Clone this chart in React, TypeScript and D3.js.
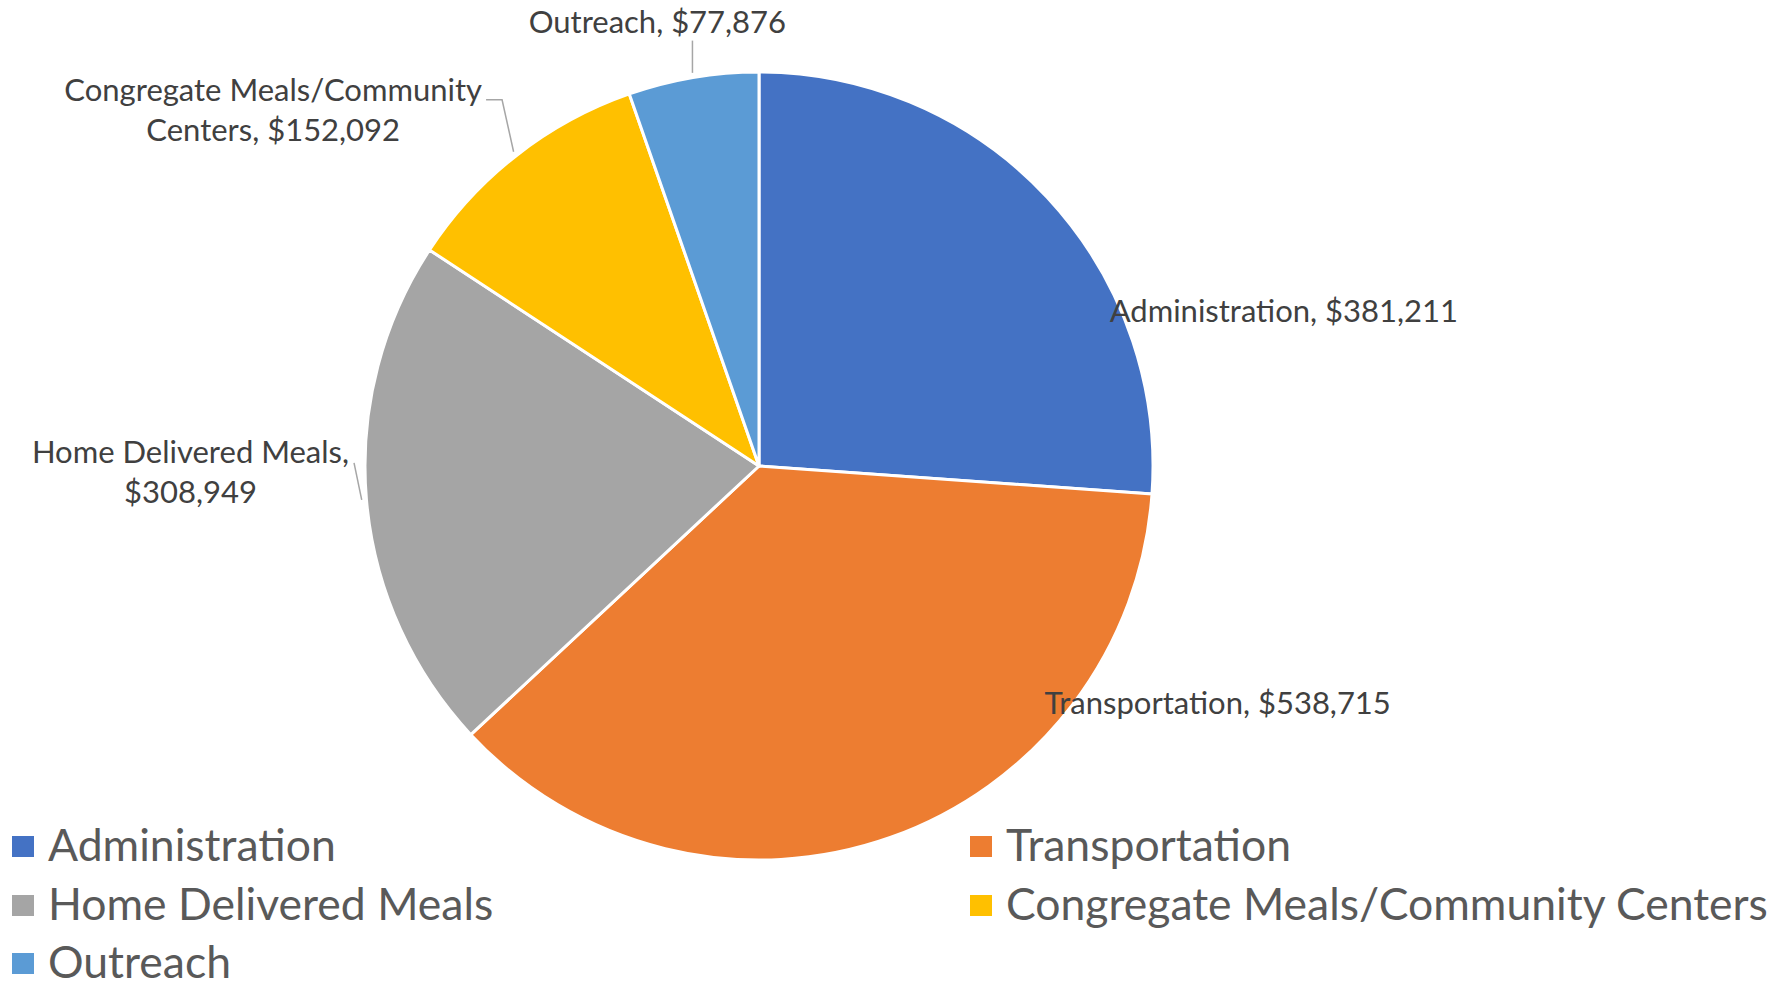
import * as d3 from "d3";
import React, { useEffect, useRef } from "react";

const categories = [
    "Administration",
    "Transportation",
    "Home Delivered Meals",
    "Congregate Meals/Community Centers",
    "Outreach",
];
const amounts = [381211, 538715, 308949, 152092, 77876];
const colors = ["#4472C4", "#ED7D31", "#A5A5A5", "#FFC000", "#5B9BD5"];

// data label text lines (Excel wraps some of them)
const labelLines = [
    ["Administration, $381,211"],
    ["Transportation, $538,715"],
    ["Home Delivered Meals,", "$308,949"],
    ["Congregate Meals/Community", "Centers, $152,092"],
    ["Outreach, $77,876"],
];

interface Slice {
    key: string;
    value: number;
    color: string;
    lines: string[];
}

export default function App() {
    const svgRef = useRef<SVGSVGElement | null>(null);

    useEffect(() => {
        if (!svgRef.current) return;
        const svgElement = d3.select(svgRef.current);
        svgElement.selectAll("*").remove();

        const width = 1790;
        const height = 987;
        const cx = 759;
        const cy = 466;
        const radius = 394;
        const font = "Lato, 'Open Sans', sans-serif";

        const slices: Slice[] = categories.map((key, i) => ({
            key,
            value: amounts[i],
            color: colors[i],
            lines: labelLines[i],
        }));

        svgElement.attr("width", width).attr("height", height);

        const pie = d3.pie<Slice>().sort(null).value((d) => d.value);
        const dataReady = pie(slices);

        const arcGenerator = d3.arc<d3.PieArcDatum<Slice>>()
            .innerRadius(0)
            .outerRadius(radius);

        const g = svgElement.append("g")
            .attr("transform", `translate(${cx},${cy})`);

        g.selectAll(".slice")
            .data(dataReady)
            .enter()
            .append("path")
            .attr("class", "slice")
            .attr("d", arcGenerator)
            .attr("fill", (d) => d.data.color)
            .attr("stroke", "white")
            .style("stroke-width", "3px")
            .style("stroke-linejoin", "round");

        // label anchors, in units of the radius from the centre (best-fit placement)
        const labelPos: [number, number][] = [
            [1.332, -0.365],
            [1.164, 0.63],
            [-1.443, -0.008],
            [-1.233, -0.927],
            [-0.258, -1.1],
        ];
        const lineHeight = 40;
        const labelSize = 31;

        const edgePoint = (d: d3.PieArcDatum<Slice>, k: number) => {
            const a = (d.startAngle + d.endAngle) / 2;
            return [Math.sin(a) * radius * k, -Math.cos(a) * radius * k];
        };

        dataReady.forEach((d, i) => {
            const [px, py] = labelPos[i];
            const lx = px * radius;
            const ly = py * radius;
            const text = g.append("text")
                .attr("text-anchor", "middle")
                .style("font-family", font)
                .style("font-size", `${labelSize}px`)
                .style("fill", "#404040");
            d.data.lines.forEach((line, j) => {
                text.append("tspan")
                    .attr("x", lx)
                    .attr("y", ly + j * lineHeight)
                    .text(line);
            });
            const box = (text.node() as SVGTextElement).getBBox();
            const [ex, ey] = edgePoint(d, 1.012);
            // leader lines for labels sitting outside the pie
            let pts: [number, number][] | null = null;
            if (i === 4) {
                pts = [[ex, ly + 8], [ex, ey]];
            } else if (i === 3) {
                const sx = box.x + box.width + 4;
                pts = [[sx, ly - 1], [sx + 16, ly - 1], [ex, ey]];
            } else if (i === 2) {
                const sx = box.x + box.width + 5;
                pts = [[sx, ly], [ex, ey]];
            }
            if (pts) {
                g.insert("path", "text")
                    .attr("d", d3.line()(pts))
                    .attr("fill", "none")
                    .attr("stroke", "#A6A6A6")
                    .attr("stroke-width", 1.5);
            }
        });

        // legend: two columns, three rows
        const legendSize = 44.5;
        const colX = [12, 970];
        const rowY = [861, 920, 978];
        const legend = svgElement.append("g");
        slices.forEach((s, i) => {
            const x = colX[i % 2];
            const y = rowY[Math.floor(i / 2)];
            legend.append("rect")
                .attr("x", x)
                .attr("y", y - 25)
                .attr("width", 22)
                .attr("height", 21)
                .attr("fill", s.color);
            legend.append("text")
                .attr("x", x + 36)
                .attr("y", y)
                .style("font-family", font)
                .style("font-size", `${legendSize}px`)
                .style("fill", "#595959")
                .text(s.key);
        });
    }, []);

    return (
        <svg
            ref={svgRef}
            style={{ position: "absolute", left: 0, top: 0, background: "white" }}
        />
    );
}
